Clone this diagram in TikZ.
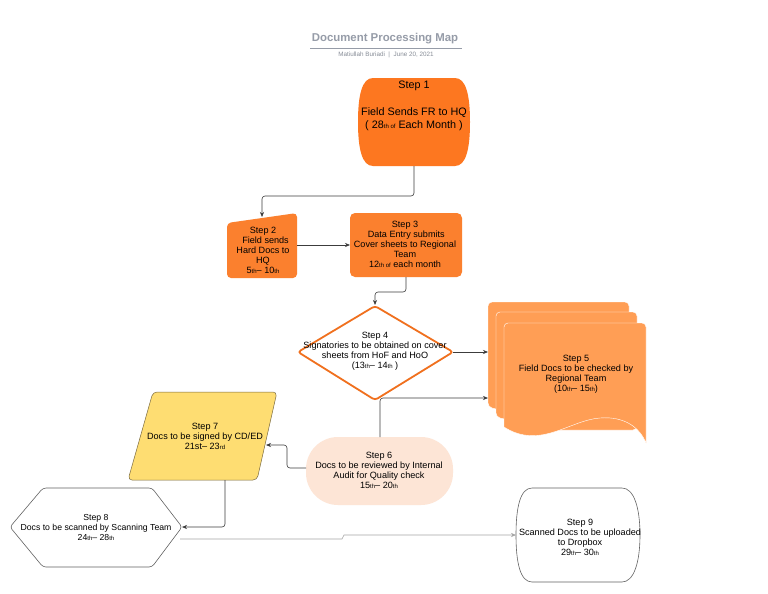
\documentclass[tikz,border=0pt]{standalone}
\usepackage{fontspec}
\setmainfont{Liberation Sans}
\usetikzlibrary{arrows.meta}
\definecolor{orA}{RGB}{253,119,32}
\definecolor{orB}{RGB}{251,128,46}
\definecolor{orC}{RGB}{255,158,85}
\definecolor{orD}{RGB}{240,112,30}
\definecolor{peach}{RGB}{253,229,214}
\definecolor{yel}{RGB}{254,221,114}
\definecolor{yelb}{RGB}{122,106,64}
\definecolor{ttl}{RGB}{150,156,168}
\definecolor{lgrey}{RGB}{165,165,165}
\definecolor{dgrey}{RGB}{60,60,60}
\newcommand{\sth}[1]{{\fontsize{6}{6}\selectfont #1}}
\tikzset{
  txt/.style={align=center, font=\fontsize{9.1}{10}\selectfont, inner sep=0pt, text=black},
  conn/.style={draw=dgrey, line width=0.6pt, rounded corners=3pt, -{Stealth[length=5pt,width=4pt]}},
  lconn/.style={draw=lgrey, line width=0.6pt, -{Stealth[length=5pt,width=4pt]}, color=lgrey},
  sheet/.style={fill=orC, draw=white, line width=0.4pt},
}
\begin{document}
\begin{tikzpicture}[x=1pt,y=-1pt]
\useasboundingbox (0,0) rectangle (768,594);
\fill[white] (0,0) rectangle (768,594);

% title
\node[font=\bfseries\fontsize{11.4}{12}\selectfont, text=ttl, inner sep=0pt] (title) at (385,39) {Document Processing Map};
\draw[ttl, line width=0.8pt] (310,48) -- (462,48);
\node[font=\fontsize{6.3}{7}\selectfont, text=ttl!90!black, inner sep=0pt] (sub) at (386,55) {Matiullah Buriadi \ | \ June 20, 2021};

% Step 1
\fill[orA] (373,78) -- (455,78) .. controls (466,78) and (470,95) .. (470,122)
  .. controls (470,149) and (466,166) .. (455,166) -- (373,166)
  .. controls (362,166) and (358,149) .. (358,122)
  .. controls (358,95) and (362,78) .. (373,78) -- cycle;
\node[txt, font=\fontsize{10.8}{12.5}\selectfont] (s1t) at (414,86) {Step 1};
\node[txt, font=\fontsize{10.8}{12.5}\selectfont] (s1) at (414,119) {Field Sends FR to HQ\\( 28\sth{th of} Each Month )};
\coordinate (s1s) at (414,166);

% Step 2
\fill[orB, rounded corners=4pt] (227,223) -- (297,213) -- (297,278) -- (227,278) -- cycle;
\node[txt] (s2) at (263,250) {Step 2\\\ \ Field sends\\Hard Docs to\\HQ\\5\sth{th}– 10\sth{th}};
\coordinate (s2n) at (262,217);
\coordinate (s2e) at (297,245);

% Step 3
\fill[orB, rounded corners=5pt] (350,213) rectangle (462,277);
\node[txt] (s3) at (405,244) {Step 3\\\ Data Entry submits\\Cover sheets to Regional\\Team\\12\sth{th of} each month};
\coordinate (s3w) at (350,245);
\coordinate (s3s) at (406,277);

% Step 4
\draw[orD, line width=1.8pt, fill=white, rounded corners=3pt] (298,352) -- (375,306) -- (453,352) -- (375,400) -- cycle;
\node[txt] (s4) at (375,351) {Step 4\\Signatories to be obtained on cover\\sheets from HoF and HoO\\(13\sth{th}– 14\sth{th} )};
\coordinate (s4n) at (375,305);
\coordinate (s4e) at (453,352);

% Step 5
\path[sheet, rounded corners=4pt] (488,407) -- (488,302) -- (629,302) -- (629,420) -- (540,420) -- cycle;
\path[sheet, rounded corners=4pt] (496,417) -- (496,312) -- (637,312) -- (637,430) -- (550,430) -- cycle;
\path[sheet] (504,427) -- (504,327) arc[start angle=180, end angle=90, radius=4pt] -- (642,323) arc[start angle=90, end angle=0, radius=4pt] -- (646,443)
  .. controls (640,428) and (625,416) .. (600,418)
  .. controls (570,420) and (540,450) .. (504,427) -- cycle;
\node[txt] (s5) at (576,374) {Step 5\\Field Docs to be checked by\\Regional Team\\(10\sth{th}– 15\sth{th})};
\coordinate (s5w) at (488,352);
\coordinate (s5w2) at (488,398);

% Step 6
\fill[peach, rounded corners=32pt] (306,437) rectangle (453,505);
\node[txt] (s6) at (379,470) {Step 6\\Docs to be reviewed by Internal\\Audit for Quality check\\15\sth{th}– 20\sth{th}};
\coordinate (s6n) at (380,437);
\coordinate (s6w) at (306,468);

% Step 7
\draw[yelb, line width=0.5pt, fill=yel, rounded corners=4pt] (153,392) -- (277,392) -- (257,480) -- (128,480) -- cycle;
\node[txt] (s7) at (205,436) {Step 7\\Docs to be signed by CD/ED\\21st– 23\sth{rd}};
\coordinate (s7e) at (266,445);
\coordinate (s7s) at (225,480);

% Step 8
\draw[dgrey!80, line width=0.6pt, fill=white, rounded corners=3pt] (10,527) -- (43,488) -- (152,488) -- (182,527) -- (152,567) -- (43,567) -- cycle;
\node[txt, font=\fontsize{8.7}{10}\selectfont] (s8) at (96,527) {Step 8\\Docs to be scanned by Scanning Team\\24\sth{th}– 28\sth{th}};
\coordinate (s8e) at (182,527);
\coordinate (s8e2) at (180,539);

% Step 9
\draw[dgrey!80, line width=0.6pt, fill=white] (532,488) -- (622,488) .. controls (634,488) and (640,508) .. (640,535)
  .. controls (640,562) and (634,582) .. (622,582) -- (532,582)
  .. controls (520,582) and (516,562) .. (516,535)
  .. controls (516,508) and (520,488) .. (532,488) -- cycle;
\node[txt] (s9) at (580,537) {Step 9\\Scanned Docs to be uploaded\\to Dropbox\\29\sth{th}– 30\sth{th}};
\coordinate (s9w) at (516,535);

% connectors
\draw[conn] (s1s) -- (414,196) -- (262,196) -- (s2n);
\draw[conn] (s2e) -- (s3w);
\draw[conn] (s3s) -- (406,292) -- (375,292) -- (s4n);
\draw[conn] (s4e) -- (s5w);
\draw[conn] (s6n) -- (380,398) -- (s5w2);
\draw[conn] (s6w) -- (287,468) -- (287,445) -- (s7e);
\draw[conn] (s7s) -- (225,527) -- (s8e);
\draw[lconn] (s8e2) -- (342,539) -- (344,535) -- (s9w);
\end{tikzpicture}
\end{document}
